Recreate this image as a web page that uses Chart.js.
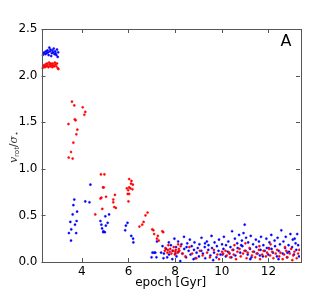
<!DOCTYPE html>
<html>
<head>
<meta charset="utf-8">
<script src="https://cdn.jsdelivr.net/npm/chart.js@4"></script>
<style>
  html, body { margin: 0; padding: 0; background: #fff; }
  #wrap { width: 332px; height: 291px; }
</style>
</head>
<body>
<div id="wrap"><canvas id="c" width="332" height="291"></canvas></div>
<script>
// epoch in Gyr, v_rot / sigma_star
var blueEpoch = [
  2.33,2.37,2.40,2.44,2.47,2.50,2.53,2.56,2.58,2.61,2.64,2.66,2.69,2.72,2.74,2.77,2.80,2.83,2.86,2.88,2.91,2.94,2.97,2.99,
  4.37,4.15,4.33,3.68,3.64,3.80,3.61,3.51,3.78,3.71,3.55,3.45,3.76,3.54,
  4.80,4.84,5.17,5.01,5.11,5.03,4.87,4.93,4.99,4.92,
  5.96,5.89,5.86,6.12,6.20,6.21,
  7.22,7.46,7.03,7.10,7.15,6.99,7.20,7.40,7.52,7.50,
  7.61,7.73,7.74,7.82,7.88,7.89,7.97,8.04,8.06,8.13,8.14,8.22,8.27,8.31,8.38,8.39,8.47,8.52,8.58,8.63,
  8.66,8.71,8.79,8.81,8.83,8.92,8.97,9.02,9.04,9.12,9.13,9.19,9.27,9.29,9.36,9.42,9.43,9.51,9.56,9.58,
  9.67,9.69,9.77,9.79,9.86,9.88,9.94,10.01,10.07,10.09,10.17,10.18,10.26,10.28,10.33,10.37,10.44,10.49,10.56,10.58,
  10.66,10.68,10.74,10.79,10.86,10.88,10.93,10.98,11.02,11.04,11.11,11.13,11.21,11.24,11.27,11.34,11.38,11.46,11.48,11.53,
  11.59,11.66,11.68,11.76,11.78,11.84,11.91,11.93,11.99,12.04,12.12,12.13,12.19,12.26,12.28,12.36,12.39,12.44,12.49,12.55,
  12.61,12.64,12.71,12.74,12.79,12.86,12.88,12.94,13.01,13.04,13.09,13.16,13.19,13.23,13.27,13.31,
  7.66,8.01,8.49,8.87,9.28,9.63,10.03,10.41,10.83,11.22,11.63,12.02,12.43,12.81,13.12
];
var blueRatio = [
  2.22,2.24,2.25,2.23,2.26,2.24,2.27,2.25,2.22,2.30,2.26,2.28,2.21,2.24,2.27,2.25,2.29,2.23,2.26,2.24,2.22,2.28,2.20,2.25,
  0.83,0.65,0.64,0.67,0.61,0.54,0.51,0.43,0.44,0.40,0.35,0.31,0.31,0.23,
  0.44,0.40,0.51,0.49,0.42,0.39,0.36,0.33,0.32,0.32,
  0.42,0.39,0.34,0.28,0.25,0.21,
  0.22,0.17,0.10,0.10,0.10,0.05,0.05,0.10,0.09,0.04,
  0.14,0.21,0.08,0.18,0.03,0.12,0.25,0.16,0.06,0.22,0.11,0.01,0.19,0.09,0.27,0.14,0.05,0.20,0.12,0.24,
  0.08,0.17,0.03,0.13,0.21,0.10,0.15,0.06,0.19,0.12,0.26,0.09,0.16,0.04,0.22,0.13,0.18,0.07,0.28,0.15,
  0.10,0.21,0.05,0.17,0.12,0.24,0.08,0.19,0.14,0.27,0.06,0.18,0.11,0.22,0.09,0.16,0.33,0.13,0.25,0.07,
  0.20,0.15,0.29,0.10,0.23,0.17,0.31,0.40,0.12,0.26,0.08,0.21,0.14,0.28,0.05,0.19,0.11,0.24,0.16,0.09,
  0.22,0.13,0.27,0.06,0.18,0.12,0.25,0.15,0.08,0.21,0.29,0.14,0.10,0.23,0.17,0.06,0.26,0.12,0.19,0.34,
  0.09,0.22,0.15,0.27,0.05,0.18,0.11,0.30,0.16,0.24,0.08,0.20,0.13,0.30,0.18,0.06,
  0.05,0.09,0.16,0.04,0.20,0.02,0.08,0.05,0.18,0.03,0.07,0.15,0.03,0.10,0.25
];
var redEpoch = [
  2.32,2.35,2.38,2.42,2.45,2.48,2.51,2.54,2.57,2.60,2.63,2.65,2.68,2.71,2.74,2.76,2.79,2.82,2.85,2.88,2.91,2.94,2.97,3.00,
  3.58,3.68,4.04,4.15,4.11,3.70,3.74,3.43,3.81,3.77,3.64,3.54,3.44,3.61,
  4.82,4.97,4.91,4.94,4.84,4.80,5.04,5.42,5.35,5.35,5.39,5.46,4.88,4.58,
  6.03,6.13,6.11,6.19,5.93,6.03,5.99,6.08,6.17,5.97,6.03,6.00,
  6.47,6.59,6.65,6.73,6.82,7.02,7.07,7.10,7.22,7.26,7.45,7.49,7.30,
  7.56,7.58,7.67,7.69,7.77,7.79,7.84,7.92,7.94,8.01,8.03,8.11,8.16,8.18,8.24,8.32,7.71,7.99,8.13,
  8.44,8.61,8.73,8.91,9.06,9.18,9.37,9.49,9.66,9.81,9.88,
  10.01,10.06,10.16,10.21,10.31,10.36,10.46,10.51,10.61,10.67,10.76,10.81,10.91,10.97,11.06,11.11,11.19,11.29,11.33,11.43,
  11.49,11.59,11.64,11.73,11.79,11.89,11.94,12.03,12.07,12.16,12.21,12.31,12.37,12.46,12.51,12.61,12.67,12.76,12.81,12.91,
  12.97,13.06,13.11,13.21,13.27,13.32,10.54,11.01,11.61,12.09,12.71,13.02
];
var redRatio = [
  2.08,2.10,2.11,2.09,2.12,2.10,2.13,2.11,2.09,2.14,2.12,2.10,2.13,2.11,2.09,2.13,2.11,2.10,2.14,2.12,2.10,2.13,2.08,2.07,
  1.72,1.68,1.66,1.61,1.58,1.53,1.52,1.48,1.42,1.37,1.28,1.18,1.12,1.11,
  0.94,0.94,0.80,0.80,0.69,0.68,0.70,0.72,0.67,0.64,0.59,0.58,0.57,0.51,
  0.89,0.87,0.84,0.83,0.79,0.80,0.77,0.79,0.78,0.73,0.73,0.65,
  0.38,0.40,0.43,0.50,0.53,0.35,0.34,0.30,0.25,0.28,0.33,0.32,0.23,
  0.12,0.15,0.10,0.13,0.11,0.14,0.09,0.12,0.16,0.11,0.13,0.10,0.14,0.12,0.17,0.09,0.18,0.08,0.19,
  0.06,0.16,0.09,0.04,0.12,0.07,0.10,0.05,0.13,0.08,0.03,
  0.11,0.09,0.12,0.07,0.10,0.05,0.13,0.08,0.03,0.11,0.14,0.06,0.09,0.12,0.04,0.10,0.15,0.07,0.11,0.05,
  0.09,0.13,0.03,0.08,0.12,0.06,0.10,0.14,0.07,0.11,0.04,0.09,0.13,0.06,0.10,0.03,0.08,0.12,0.05,0.09,
  0.14,0.07,0.11,0.04,0.09,0.13,0.18,0.20,0.17,0.19,0.16,0.02
];
var xTicks = [4, 6, 8, 10, 12];
var yTicks = [0.0, 0.5, 1.0, 1.5, 2.0, 2.5];

function pts(xs, ys) {
  return xs.map(function (x, i) { return { x: x, y: ys[i] }; });
}

var frame = {
  id: 'frame',
  afterDraw: function (chart) {
    var ctx = chart.ctx, a = chart.chartArea;
    var xs = chart.scales.x, ys = chart.scales.y;
    ctx.save();
    ctx.strokeStyle = '#555';
    ctx.lineWidth = 1;
    ctx.strokeRect(Math.round(a.left) + 0.5, Math.round(a.top) + 0.5,
      Math.round(a.right - a.left), Math.round(a.bottom - a.top));
    ctx.beginPath();
    xTicks.forEach(function (t) {
      var px = Math.round(xs.getPixelForValue(t)) + 0.5;
      ctx.moveTo(px, a.bottom); ctx.lineTo(px, a.bottom - 4);
      ctx.moveTo(px, a.top); ctx.lineTo(px, a.top + 4);
    });
    yTicks.forEach(function (t) {
      var py = Math.round(ys.getPixelForValue(t)) + 0.5;
      ctx.moveTo(a.left, py); ctx.lineTo(a.left + 4, py);
      ctx.moveTo(a.right, py); ctx.lineTo(a.right - 4, py);
    });
    ctx.stroke();

    ctx.fillStyle = '#000';
    ctx.font = '16px "DejaVu Sans"';
    ctx.textAlign = 'center';
    ctx.textBaseline = 'middle';
    ctx.fillText('A', 286, 42);

    ctx.font = '12px "DejaVu Sans"';
    ctx.fillText('epoch [Gyr]', (a.left + a.right) / 2, 283);

    // y label: v_rot / sigma_star
    ctx.fillStyle = '#333';
    var parts = [
      { t: 'v', f: 'italic 11px "DejaVu Serif"', dy: 0 },
      { t: 'rot', f: '7px "DejaVu Sans"', dy: 3 },
      { t: '/', f: '11px "DejaVu Sans"', dy: 0 },
      { t: 'σ', f: 'italic 11px "DejaVu Serif"', dy: 0 },
      { t: '⋆', f: '8px "DejaVu Sans"', dy: 3 }
    ];
    var total = 0;
    parts.forEach(function (p) { ctx.font = p.f; p.w = ctx.measureText(p.t).width; total += p.w; });
    ctx.translate(14, 147);
    ctx.rotate(-Math.PI / 2);
    ctx.textAlign = 'left';
    var cx = -total / 2;
    parts.forEach(function (p) {
      ctx.font = p.f;
      ctx.fillText(p.t, cx, p.dy);
      cx += p.w;
    });
    ctx.restore();
  }
};

new Chart(document.getElementById('c'), {
  type: 'scatter',
  data: {
    datasets: [
      { data: pts(redEpoch, redRatio), backgroundColor: '#ff0000', borderColor: '#ff0000', pointRadius: 1.1, borderWidth: 0.4 },
      { data: pts(blueEpoch, blueRatio), backgroundColor: '#0000ff', borderColor: '#0000ff', pointRadius: 1.1, borderWidth: 0.4 }
    ]
  },
  options: {
    responsive: false,
    animation: false,
    layout: { padding: { top: 29, right: 32, left: 0, bottom: 0 } },
    plugins: { legend: { display: false }, tooltip: { enabled: false } },
    scales: {
      x: {
        type: 'linear', min: 2.275, max: 13.35,
        grid: { display: false, drawTicks: false },
        border: { display: false },
        afterBuildTicks: function (s) { s.ticks = xTicks.map(function (v) { return { value: v }; }); },
        afterFit: function (s) { s.height = 29; },
        ticks: { color: '#000', font: { family: 'DejaVu Sans', size: 12 }, padding: 3, maxRotation: 0 }
      },
      y: {
        min: 0, max: 2.5,
        grid: { display: false, drawTicks: false },
        border: { display: false },
        afterBuildTicks: function (s) { s.ticks = yTicks.map(function (v) { return { value: v }; }); },
        afterFit: function (s) { s.width = 41.5; },
        ticks: { color: '#000', font: { family: 'DejaVu Sans', size: 12 }, padding: 4,
          callback: function (v) { return v.toFixed(1); } }
      }
    }
  },
  plugins: [frame]
});
</script>
</body>
</html>
